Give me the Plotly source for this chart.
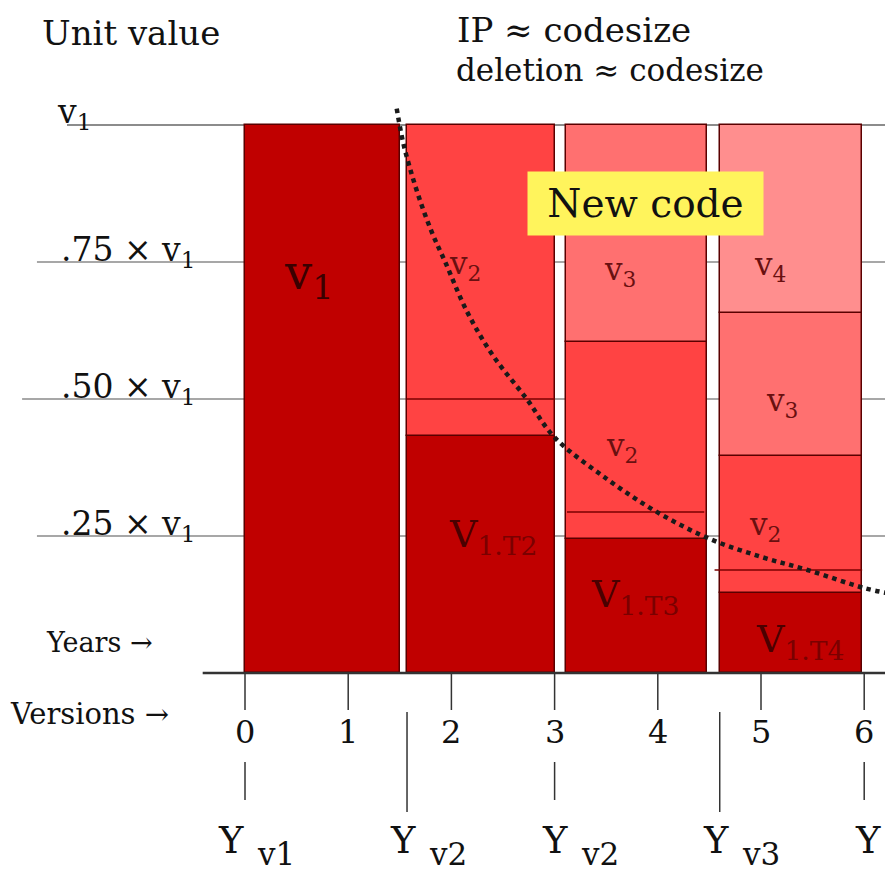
import plotly.graph_objects as go

# ---------------- data ----------------
bar_left = [0.0, 1.57, 3.11, 4.60]
bar_right = [1.50, 3.00, 4.48, 5.98]
v1_remaining = [1.0, 0.432, 0.244, 0.146]   # dark-red V1 share at each version
v2_top = [None, 1.0, 0.604, 0.396]
v3_top = [None, None, 1.0, 0.657]
v4_top = [None, None, None, 1.0]

# deletion markers inside bars
mark_y = [0.50, 0.294, 0.188]
mark_x0 = [1.57, 3.12, 4.55]
mark_x1 = [3.00, 4.45, 5.98]

# dotted decay curve
curve_x = [1.47, 1.53, 1.60, 1.70, 1.82, 1.94, 2.15, 2.40, 2.73, 3.00, 3.50, 3.99, 4.50, 5.00, 5.45, 6.00, 6.22]
curve_y = [1.03, 0.97, 0.92, 0.86, 0.80, 0.75, 0.66, 0.58, 0.50, 0.43, 0.355, 0.294, 0.245, 0.212, 0.188, 0.155, 0.146]

grid_vals = [1.0, 0.75, 0.50, 0.25]
grid_labels = ["v<sub>1</sub>", ".75 × v<sub>1</sub>", ".50 × v<sub>1</sub>", ".25 × v<sub>1</sub>"]

year_ticks = [0, 1, 2, 3, 4, 5, 6]
release_x = [0.0, 1.57, 3.0, 4.60, 6.0]
release_sub = ["v1", "v2", "v2", "v3", ""]

# ---------------- styles ----------------
FONT = "DejaVu Serif, Liberation Serif, serif"
DARK = "#C00000"
C_V2 = "#FF4343"
C_V3 = "#FF7070"
C_V4 = "#FF8E8E"
EDGE = "#5a0000"
W, H = 885, 870   # page body adds an 8px margin -> fills 893x878 window
OFF = 8

fig = go.Figure()

centers = [(l + r) / 2 for l, r in zip(bar_left, bar_right)]
widths = [r - l for l, r in zip(bar_left, bar_right)]

def add_layer(base, top, color):
    xs, ys, bs, ws = [], [], [], []
    for c, w, b, t in zip(centers, widths, base, top):
        if t is None:
            continue
        xs.append(c); ys.append(t - b); bs.append(b); ws.append(w)
    fig.add_trace(go.Bar(x=xs, y=ys, base=bs, width=ws,
                         marker=dict(color=color, line=dict(color=EDGE, width=1.5)),
                         hoverinfo="skip", showlegend=False))

add_layer([0, 0, 0, 0], v1_remaining, DARK)
add_layer(v1_remaining, v2_top, C_V2)
add_layer([t if t is not None else 0 for t in v2_top], v3_top, C_V3)
add_layer([t if t is not None else 0 for t in v3_top], v4_top, C_V4)

# deletion marker lines
mx, my = [], []
for a, b, y in zip(mark_x0, mark_x1, mark_y):
    mx += [a, b, None]; my += [y, y, None]
fig.add_trace(go.Scatter(x=mx, y=my, mode="lines", line=dict(color="#7a0000", width=1.5),
                         hoverinfo="skip", showlegend=False))

# dotted curve
fig.add_trace(go.Scatter(x=curve_x, y=curve_y, mode="lines",
                         line=dict(color="#1a1a1a", width=4.5, dash="dot", shape="spline"),
                         hoverinfo="skip", showlegend=False))

shapes = []
grid_start = [-1.725, -2.016, -2.16, -2.016]
for g, x0 in zip(grid_vals, grid_start):
    shapes.append(dict(type="line", xref="x", yref="y", x0=x0, x1=6.28, y0=g, y1=g,
                       line=dict(color="#8a8a8a" if g < 1 else "#666666", width=1.5), layer="below"))
# baseline
shapes.append(dict(type="line", xref="x", yref="y", x0=-0.41, x1=6.28, y0=0, y1=0,
                   line=dict(color="#333333", width=2.5)))
# year ticks
for t in year_ticks:
    shapes.append(dict(type="line", xref="x", yref="y", x0=t, x1=t, ysizemode="pixel", yanchor=0,
                       y0=0, y1=-37, line=dict(color="#333333", width=1.5)))
# release lines
for rx, s in zip(release_x, release_sub):
    long = rx not in year_ticks
    y0, y1 = (-39, -139) if long else (-89, -127)
    shapes.append(dict(type="line", xref="x", yref="y", x0=rx, x1=rx, ysizemode="pixel", yanchor=0,
                       y0=y0, y1=y1, line=dict(color="#333333", width=1.5)))

ann = []
def txt(x, y, text, size, color="#111111", xanchor="center", yanchor="middle", xref="x", yref="y", **kw):
    ann.append(dict(x=x, y=y, xref=xref, yref=yref, text=text, showarrow=False,
                    font=dict(family=FONT, size=size, color=color),
                    xanchor=xanchor, yanchor=yanchor, **kw))

def px(p):
    return (p - OFF) / W

def py(p):
    return 1 - (p - OFF) / H

# y labels
for g, lab in zip(grid_vals, grid_labels):
    if g == 1.0:
        txt(-1.84, g, lab, 33, xanchor="left", yanchor="bottom", yshift=-12)
    else:
        txt(-0.47, g, lab, 33, xanchor="right", yanchor="bottom", yshift=-13)

# headers
txt(px(40), py(33), "Unit value", 34, xanchor="left", xref="paper", yref="paper")
txt(px(455), py(8), "IP ≈ codesize", 34, xanchor="left", yanchor="top", xref="paper", yref="paper")
txt(px(454), py(70), "deletion ≈ codesize", 31, xanchor="left", xref="paper", yref="paper")
txt(-1.95, 0, "Years →", 27, xanchor="left", yshift=31)
txt(-2.29, 0, "Versions →", 29, xanchor="left", yshift=-41, xshift=-1)

# x tick labels
for t in year_ticks:
    txt(t, 0, str(t), 32, yshift=-59)

# release labels
y_shift = [-14, -4, 0, -4, 4]
for rx, s, sh in zip(release_x, release_sub, y_shift):
    txt(rx, 0, "Y", 37, yshift=-167, xshift=sh)
    if s:
        txt(rx, 0, s, 31, xanchor="left", yshift=-181, xshift=sh + 24)

# New code box
txt(3.876, 0.856, "New code", 39, color="#111111", bgcolor="#FFF45C", width=235, height=63, borderpad=0)

# in-bar labels
LAB = "#4a0000"
SUB = "#7a0000"
txt(0.62, 0.726, "v<sub>1</sub>", 48, color="#3a0000")
txt(2.13, 0.743, "v<sub>2</sub>", 31, color="#6a1010")
txt(3.63, 0.732, "v<sub>3</sub>", 31, color="#6a1010")
txt(5.09, 0.741, "v<sub>4</sub>", 31, color="#6a1010")
txt(3.65, 0.412, "v<sub>2</sub>", 31, color="#6a1010")
txt(5.20, 0.494, "v<sub>3</sub>", 31, color="#6a1010")
txt(5.04, 0.268, "v<sub>2</sub>", 31, color="#6a1010")
txt(2.40, 0.25, "V<sub><span style='color:%s'>1.T2</span></sub>" % SUB, 38, color=LAB)
txt(3.78, 0.14, "V<sub><span style='color:%s'>1.T3</span></sub>" % SUB, 38, color=LAB)
txt(5.38, 0.057, "V<sub><span style='color:%s'>1.T4</span></sub>" % SUB, 38, color=LAB)

x_per_px = 1 / 103.2
y_per_px = 1 / 548.0
fig.update_layout(
    width=W, height=H, autosize=False,
    margin=dict(l=0, r=0, t=0, b=0),
    paper_bgcolor="white", plot_bgcolor="white",
    barmode="overlay", bargap=0,
    xaxis=dict(range=[-237 * x_per_px, -237 * x_per_px + W * x_per_px], visible=False, fixedrange=True),
    yaxis=dict(range=[665 * y_per_px - H * y_per_px, 665 * y_per_px], visible=False, fixedrange=True),
    shapes=shapes, annotations=ann, showlegend=False,
)

fig.write_html("out.html", config={"displayModeBar": False})
